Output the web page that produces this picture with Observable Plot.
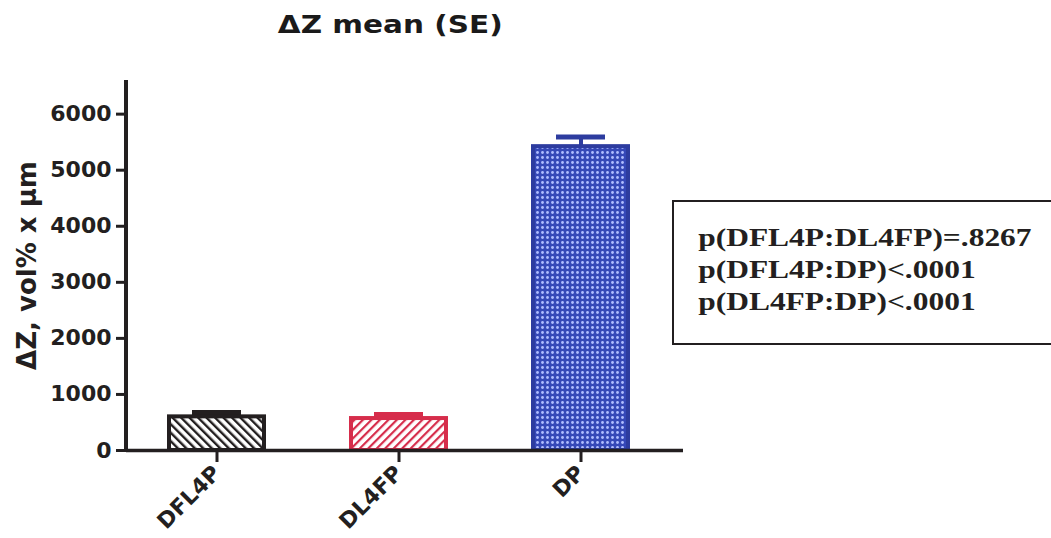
<!DOCTYPE html>
<html><head><meta charset="utf-8">
<script src="https://cdn.jsdelivr.net/npm/d3@7"></script>
<script src="https://cdn.jsdelivr.net/npm/@observablehq/plot@0.6"></script>
<style>
body{margin:0;background:#fff;width:1051px;height:538px;overflow:hidden;position:relative;}
#title{position:absolute;left:0;top:0;width:780px;text-align:center;font:bold 25px "DejaVu Sans";line-height:25px;color:#1a1a1a;padding-top:12px}
#title span{display:inline-block;transform:scaleX(1.18);transform-origin:center}
#chart{position:absolute;left:0;top:60px}
#pbox{position:absolute;left:672px;top:200px;width:420px;border:2px solid #231f20;font:bold 26px "Liberation Serif";color:#231f20;padding-top:20px;box-sizing:border-box;height:145px}
#pbox div{transform:scaleX(1.21);transform-origin:left;white-space:nowrap;line-height:32px;padding-left:20px}
</style>
</head><body>
<div id="title"><span></span></div>
<div id="chart"></div>
<div id="pbox"></div>
<script>
const groups = ["DFL4P", "DL4FP", "DP"];
const means = [600, 570, 5420];
const ses = [80, 70, 170];
const strokeColors = ["#231f20", "#d62d4b", "#2d3c9f"];
const yTicks = [0, 1000, 2000, 3000, 4000, 5000, 6000];
const yMax = 6600;
const titleText = "ΔZ mean (SE)";
const yLabel = "ΔZ, vol% x µm";
const pLines = ["p(DFL4P:DL4FP)=.8267", "p(DFL4P:DP)<.0001", "p(DL4FP:DP)<.0001"];

document.querySelector("#title span").textContent = titleText;
const box = document.getElementById("pbox");
pLines.forEach(t => { const d = document.createElement("div"); d.textContent = t; box.appendChild(d); });

const data = groups.map((g, i) => ({
  group: g, mean: means[i], se: ses[i], top: means[i] + ses[i],
  pat: `url(#pat${i})`, color: strokeColors[i]
}));

const extras = (index, scales, values, dims) => {
  const g = d3.create("svg:g");
  const defs = g.append("defs");
  // black hatch "\"
  const p0 = defs.append("pattern").attr("id", "pat0").attr("patternUnits", "userSpaceOnUse")
    .attr("width", 6).attr("height", 6).attr("patternTransform", "rotate(-45)");
  p0.append("rect").attr("width", 6).attr("height", 6).attr("fill", "#fff");
  p0.append("rect").attr("width", 2.4).attr("height", 6).attr("fill", "#231f20");
  // red hatch "/"
  const p1 = defs.append("pattern").attr("id", "pat1").attr("patternUnits", "userSpaceOnUse")
    .attr("width", 6).attr("height", 6).attr("patternTransform", "rotate(45)");
  p1.append("rect").attr("width", 6).attr("height", 6).attr("fill", "#fff");
  p1.append("rect").attr("width", 2.2).attr("height", 6).attr("fill", "#d62d4b");
  // blue dotted
  const p2 = defs.append("pattern").attr("id", "pat2").attr("patternUnits", "userSpaceOnUse")
    .attr("width", 5).attr("height", 5);
  p2.append("rect").attr("width", 5).attr("height", 5).attr("fill", "#3548b8");
  p2.append("circle").attr("cx", 2.5).attr("cy", 2.5).attr("r", 1.4).attr("fill", "#b0bdff");
  // y axis line
  g.append("line")
    .attr("x1", dims.marginLeft).attr("x2", dims.marginLeft)
    .attr("y1", scales.y(yMax)).attr("y2", scales.y(0))
    .attr("stroke", "#231f20").attr("stroke-width", 4);
  return g.node();
};

const chart = Plot.plot({
  width: 1051, height: 478,
  marginLeft: 126, marginRight: 368, marginTop: 20, marginBottom: 88,
  style: {fontFamily: "DejaVu Sans", fontWeight: "bold", color: "#231f20", background: "transparent"},
  x: {domain: groups, paddingInner: 0.48, paddingOuter: 0.27, align: 0.434, label: null, axis: null},
  y: {domain: [0, yMax], label: null, axis: null},
  color: {type: "identity"},
  marks: [
    extras,
    Plot.axisY({ticks: yTicks, tickSize: 10, tickPadding: 5, strokeWidth: 3, fontSize: 22, fontWeight: "bold", label: null, tickFormat: d => String(d)}),
    Plot.axisX({tickSize: 12, tickPadding: 7, tickRotate: -45, strokeWidth: 3, fontSize: 22, fontWeight: "bold", label: null}),
    Plot.ruleX(data, {x: "group", y1: "mean", y2: "top", stroke: "color", strokeWidth: 4}),
    Plot.tickY(data, {x: "group", y: "top", stroke: "color", strokeWidth: 5, insetLeft: 23, insetRight: 23}),
    Plot.barY(data, {x: "group", y: "mean", fill: "pat", stroke: "color", strokeWidth: 4}),
    Plot.ruleY([0], {stroke: "#231f20", strokeWidth: 3.5}),
    Plot.text([yLabel], {frameAnchor: "left", textAnchor: "middle", text: d => d, rotate: -90, dx: -99, fontSize: 26, fontWeight: "bold", fill: "#231f20"})
  ]
});
document.getElementById("chart").appendChild(chart);
</script>
</body></html>
